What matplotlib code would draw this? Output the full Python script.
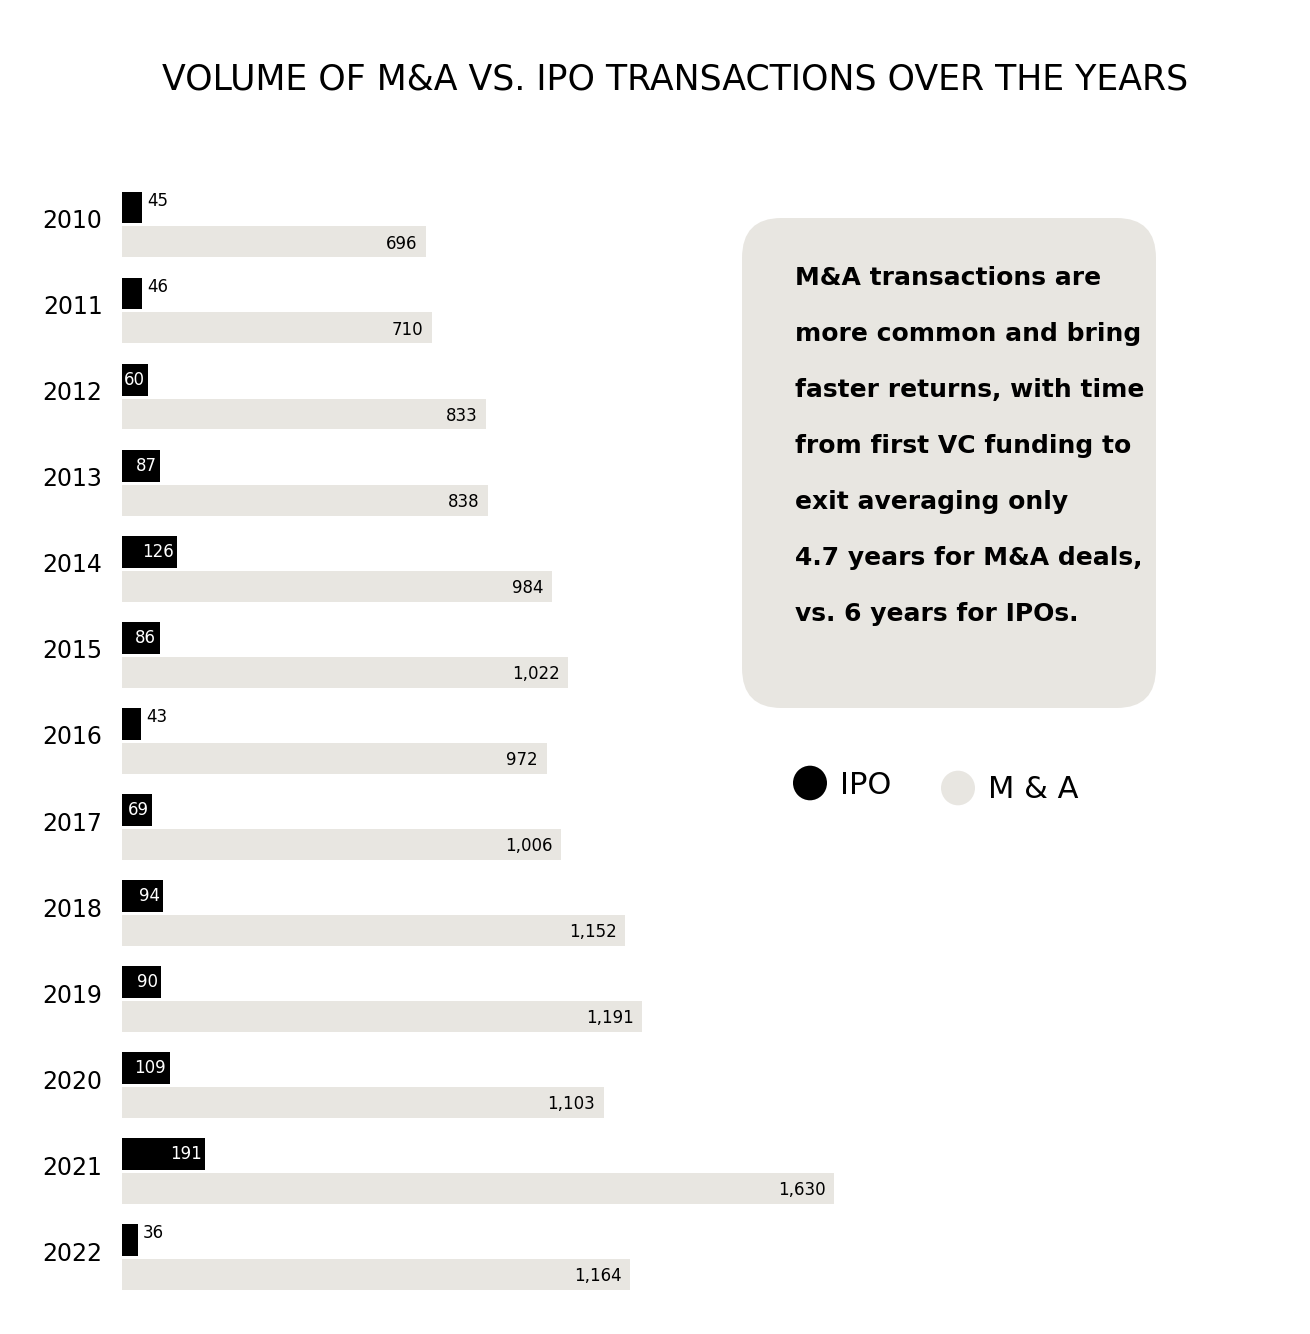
import matplotlib
matplotlib.use("Agg")
import matplotlib.pyplot as plt
from matplotlib.patches import FancyBboxPatch, Circle

plt.rcParams['font.family'] = ['DejaVu Sans']

years = ['2010', '2011', '2012', '2013', '2014', '2015', '2016',
         '2017', '2018', '2019', '2020', '2021', '2022']
ipo = [45, 46, 60, 87, 126, 86, 43, 69, 94, 90, 109, 191, 36]
mna = [696, 710, 833, 838, 984, 1022, 972, 1006, 1152, 1191, 1103, 1630, 1164]

W, H = 1310, 1334
fig = plt.figure(figsize=(W / 100, H / 100), dpi=100)
fig.patch.set_facecolor('white')

gray = '#e8e6e1'

# axes in pixel placement: x 122..834, y 192..1290
ax = fig.add_axes([122 / W, 1 - 1290 / H, (834 - 122) / W, (1290 - 192) / H])
n = len(years)
ax.set_xlim(0, 1630)
ax.set_ylim(n - 0.22, 0.02)
pos = list(range(n))
ax.barh([p + 0.2 for p in pos], ipo, height=0.37, color='black', left=0)
ax.barh([p + 0.6 for p in pos], mna, height=0.36, color=gray, left=0)

for p, v in zip(pos, ipo):
    if v >= 60:
        ax.text(v - 8, p + 0.2, str(v), ha='right', va='center', color='white', fontsize=12)
    else:
        ax.text(v + 12, p + 0.12, str(v), ha='left', va='center', color='black', fontsize=12)
for p, v in zip(pos, mna):
    ax.text(v - 20, p + 0.62, f'{v:,}', ha='right', va='center', color='black', fontsize=12)

ax.set_yticks([p + 0.33 for p in pos])
ax.set_yticklabels(years, fontsize=17)
ax.tick_params(axis='y', length=0, pad=14)
ax.set_xticks([])
for s in ax.spines.values():
    s.set_visible(False)

fig.text(675 / W, 1 - 80 / H, 'VOLUME OF M&A VS. IPO TRANSACTIONS OVER THE YEARS',
         ha='center', va='center', fontsize=25)

# annotation box
box = FancyBboxPatch((742 / W, 1 - 708 / H), 414 / W, 490 / H,
                     boxstyle='round,pad=0,rounding_size=0.03',
                     transform=fig.transFigure, facecolor=gray, edgecolor='none')
fig.patches.append(box)
lines = ['M&A transactions are', 'more common and bring', 'faster returns, with time',
         'from first VC funding to', 'exit averaging only',
         '4.7 years for M&A deals,', 'vs. 6 years for IPOs.']
for i, t in enumerate(lines):
    fig.text(795 / W, 1 - (278 + i * 56) / H, t, ha='left', va='center',
             fontsize=18, fontweight='bold')

# legend
fig.patches.append(Circle((810 / W, 1 - 783 / H), 17 / W, transform=fig.transFigure,
                          facecolor='black', edgecolor='none'))
fig.patches.append(Circle((958 / W, 1 - 788 / H), 17 / W, transform=fig.transFigure,
                          facecolor=gray, edgecolor='none'))
fig.text(840 / W, 1 - 785 / H, 'IPO', ha='left', va='center', fontsize=22)
fig.text(988 / W, 1 - 790 / H, 'M & A', ha='left', va='center', fontsize=22)

fig.savefig('out.png', dpi=100, facecolor='white')
